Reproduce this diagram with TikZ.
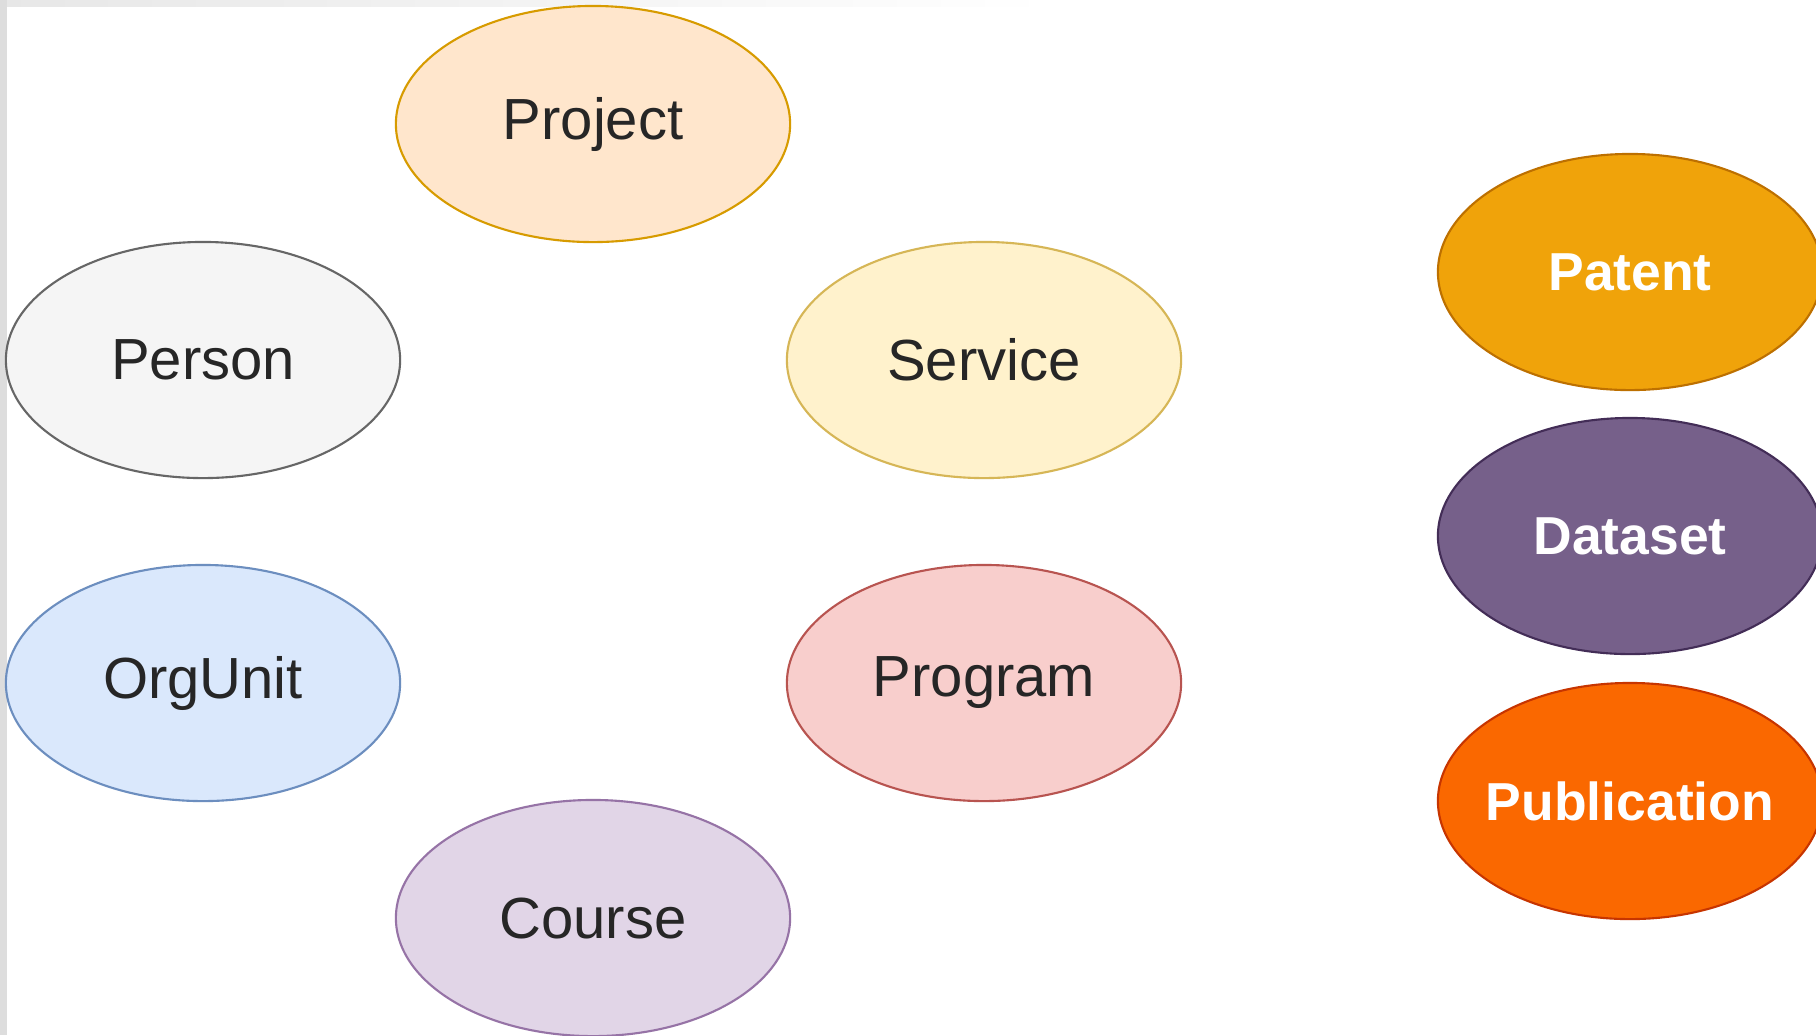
\documentclass[tikz,border=0pt]{standalone}
\usepackage{fontspec}
\setmainfont{Liberation Sans}
\usetikzlibrary{shapes.geometric}

\definecolor{prjfill}{HTML}{FFE6CC}\definecolor{prjline}{HTML}{D79B00}
\definecolor{perfill}{HTML}{F5F5F5}\definecolor{perline}{HTML}{666666}
\definecolor{srvfill}{HTML}{FFF2CC}\definecolor{srvline}{HTML}{D6B656}
\definecolor{orgfill}{HTML}{DAE8FC}\definecolor{orgline}{HTML}{6C8EBF}
\definecolor{prgfill}{HTML}{F8CECC}\definecolor{prgline}{HTML}{B85450}
\definecolor{crsfill}{HTML}{E1D5E7}\definecolor{crsline}{HTML}{9673A6}
\definecolor{patfill}{HTML}{F0A30A}\definecolor{patline}{HTML}{BD7000}
\definecolor{datfill}{HTML}{76608A}\definecolor{datline}{HTML}{432D57}
\definecolor{pubfill}{HTML}{FA6800}\definecolor{publine}{HTML}{C73500}
\definecolor{strip}{HTML}{DDDDDD}

\begin{document}
\begin{tikzpicture}[x=0.01cm,y=-0.01cm,
    entity/.style={ellipse,draw,line width=0.6pt,inner sep=0pt,
        minimum width=3.94cm,minimum height=2.36cm,
        text width=2.4cm,align=center,
        text=black!85,font=\fontsize{16.5}{19}\selectfont},
    output/.style={entity,minimum width=3.84cm,text=white,
        text width=3.1cm,inner xsep=-0.3cm,
        font=\fontsize{15.2}{18}\selectfont\bfseries}]
            \useasboundingbox (0,0) rectangle (1816,1035);
            \fill[white] (0,0) rectangle (1816,1035);

            %bordo grigio in alto e a sinistra
            \fill[strip] (0,0) rectangle (7,1035);
            \shade[left color=strip!70,right color=white] (7,0) rectangle (1050,6);

            %entita a sinistra
            \node[entity,fill=prjfill,draw=prjline] (1) at (593,124) {Project};
            \node[entity,fill=perfill,draw=perline] (2) at (203,360) {Person};
            \node[entity,fill=srvfill,draw=srvline] (3) at (984,360) {Service};
            \node[entity,fill=orgfill,draw=orgline] (4) at (203,683) {OrgUnit};
            \node[entity,fill=prgfill,draw=prgline] (5) at (984,683) {Program};
            \node[entity,fill=crsfill,draw=crsline] (6) at (593,918) {Course};

            %risultati a destra
            \node[output,fill=patfill,draw=patline] (7) at (1630,272) {Patent};
            \node[output,fill=datfill,draw=datline] (8) at (1630,536) {Dataset};
            \node[output,fill=pubfill,draw=publine] (9) at (1630,801) {Publication};
        \end{tikzpicture}
\end{document}
